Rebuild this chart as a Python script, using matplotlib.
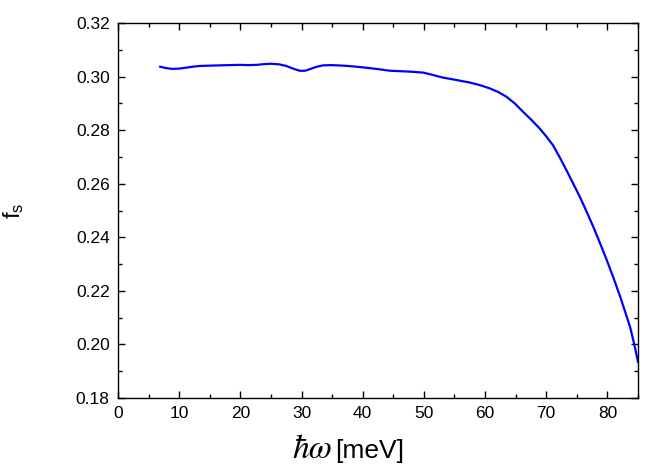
import numpy as np
import matplotlib
matplotlib.use('Agg')
import matplotlib.pyplot as plt
from matplotlib.ticker import MultipleLocator

plt.rcParams['font.family'] = ['Liberation Sans', 'DejaVu Sans']
plt.rcParams['mathtext.fontset'] = 'stix'

# energy (meV) and superfluid fraction
energy = [6.9, 7.8, 8.8, 10.0, 11.0, 12.2, 13.4, 15.0, 16.5, 18.2, 19.9, 21.3, 22.7,
          24.0, 25.1, 26.3, 27.5, 28.6, 29.7, 30.6, 31.5, 32.5, 33.5, 34.8, 36.0,
          37.5, 39.0, 41.5, 44.5, 47.5, 49.9, 51.0, 53.0, 55.4, 57.5, 59.2, 60.8,
          62.2, 63.5, 64.9, 66.2, 67.6, 68.9, 70.0, 71.1, 72.2, 73.3, 74.4, 75.5,
          76.6, 77.7, 78.8, 79.9, 81.0, 82.1, 82.9, 83.7, 84.4, 85.0]
fs = [0.3037, 0.3032, 0.3029, 0.3030, 0.3033, 0.3037, 0.3040, 0.3041, 0.3042, 0.3043,
      0.3044, 0.3043, 0.3044, 0.3047, 0.3048, 0.3046, 0.3040, 0.3030, 0.3022, 0.3022,
      0.3029, 0.3037, 0.3042, 0.3043, 0.3042, 0.3040, 0.3037, 0.3031, 0.3022, 0.3019,
      0.3015, 0.3009, 0.2997, 0.2987, 0.2978, 0.2968, 0.2956, 0.2942, 0.2925, 0.2899,
      0.2869, 0.2838, 0.2807, 0.2777, 0.2744, 0.2699, 0.2651, 0.2601, 0.2551, 0.2496,
      0.2439, 0.2378, 0.2315, 0.2248, 0.2178, 0.2122, 0.2066, 0.2000, 0.1935]

fig = plt.figure(figsize=(6.53, 4.71), dpi=100)
ax = fig.add_axes([0.1807, 0.155, 0.7963, 0.796])

ax.plot(energy, fs, color='#0000ff', linewidth=1.6)

ax.set_xlim(0, 85)
ax.set_ylim(0.18, 0.32)
ax.xaxis.set_major_locator(MultipleLocator(10))
ax.xaxis.set_minor_locator(MultipleLocator(5))
ax.yaxis.set_major_locator(MultipleLocator(0.02))
ax.yaxis.set_minor_locator(MultipleLocator(0.01))
ax.yaxis.set_major_formatter(plt.FormatStrFormatter('%.2f'))
ax.tick_params(which='both', direction='in', top=True, right=True, labelsize=12.5)
ax.tick_params(which='major', length=5, width=1, pad=6)
ax.tick_params(which='minor', length=3, width=1)
for s in ax.spines.values():
    s.set_linewidth(1)

# x label: italic serif hbar-omega followed by sans "[meV]"
fig.text(332 / 653, 13 / 471, '\u0127\u03c9', family='STIXGeneral', style='italic',
         fontsize=24, ha='right', va='baseline')
fig.text(335 / 653, 13 / 471, '[meV]', fontsize=19, ha='left', va='baseline')
ax.set_ylabel(r'f$_\mathregular{s}$', fontsize=17, labelpad=36)

fig.savefig('out.png', dpi=100)
